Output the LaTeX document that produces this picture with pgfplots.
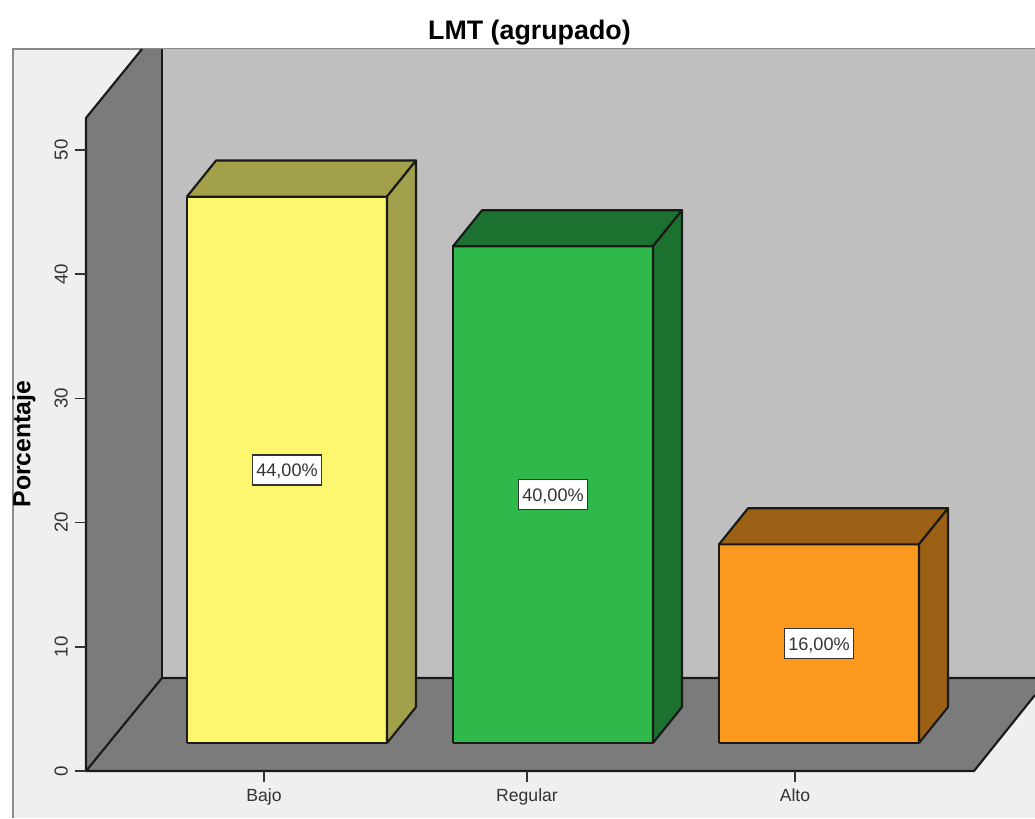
\documentclass[border=0pt]{standalone}
\usepackage{pgfplots}
\pgfplotsset{compat=1.18}
\usepackage{fontspec}
\setmainfont{Liberation Sans}

\definecolor{panelbg}{HTML}{EFEFEF}
\definecolor{panelframe}{HTML}{8A8A8A}
\definecolor{backwall}{HTML}{BFBFBF}
\definecolor{sidewall}{HTML}{7B7B7B}
\definecolor{inkline}{HTML}{1A1A1A}
\definecolor{labeltext}{HTML}{333333}
\definecolor{yellowF}{HTML}{FCF76F}
\definecolor{yellowD}{HTML}{A2A04A}
\definecolor{greenF}{HTML}{2FB94A}
\definecolor{greenD}{HTML}{1C7030}
\definecolor{orangeF}{HTML}{FB991E}
\definecolor{orangeD}{HTML}{9C6114}

\newcommand{\pxfont}[1]{\fontsize{#1}{#1}\selectfont}

% Extruded bar: left edge, value, front / top / side colours, and the value label.
% The bars stand on the floor at 2.25 and recede by 29 units in x and 2.9 in y.
\newcommand{\solidbar}[6]{%
  \pgfmathsetmacro{\xa}{#1}%
  \pgfmathsetmacro{\xb}{#1+200}%
  \pgfmathsetmacro{\xc}{#1+229}%
  \pgfmathsetmacro{\xd}{#1+29}%
  \pgfmathsetmacro{\xm}{#1+100}%
  \pgfmathsetmacro{\ya}{2.25}%
  \pgfmathsetmacro{\yb}{#2+2.25}%
  \pgfmathsetmacro{\yc}{#2+5.15}%
  \pgfmathsetmacro{\yd}{5.15}%
  \pgfmathsetmacro{\ym}{#2/2+2.25}%
  \addplot[draw=inkline, line width=1.6pt, line join=round, fill=#3]
    coordinates {(\xa,\ya) (\xb,\ya) (\xb,\yb) (\xa,\yb) (\xa,\ya)};
  \addplot[draw=inkline, line width=1.6pt, line join=round, fill=#4]
    coordinates {(\xa,\yb) (\xb,\yb) (\xc,\yc) (\xd,\yc) (\xa,\yb)};
  \addplot[draw=inkline, line width=1.6pt, line join=round, fill=#5]
    coordinates {(\xb,\ya) (\xc,\yd) (\xc,\yc) (\xb,\yb) (\xb,\ya)};
  \addplot[draw=none, mark=none, point meta=explicit symbolic, nodes near coords,
    every node near coord/.style={anchor=center, fill=white, draw=labeltext,
      line width=1.2pt, text=labeltext, inner sep=0pt, minimum width=52pt,
      minimum height=22.5pt, text height=9.6pt, text depth=0pt, font=\pxfont{13.6pt}}]
    coordinates {(\xm,\ym) [#6]};
}

\begin{document}
\begin{tikzpicture}
\begin{axis}[
  at={(64.5pt,35.25pt)}, anchor=south west,
  scale only axis, width=711.75pt, height=542.25pt,
  xmin=86, xmax=1035, ymin=0, ymax=58.2126,
  clip=false, axis on top,
  axis line style={draw=none},
  xtick={264,527,795}, xticklabels={Bajo,Regular,Alto},
  ytick={0,10,20,30,40,50},
  /pgf/number format/assume math mode=true,
  tick pos=left, tick align=outside, major tick length=8.5pt,
  tick style={draw=labeltext, line width=1.1pt},
  x tick label style={font=\pxfont{13.2pt}, text=labeltext, anchor=north, inner sep=0pt, yshift=-4.5pt},
  y tick label style={font=\pxfont{14pt}, text=labeltext, rotate=90, anchor=south, inner sep=0pt, yshift=5pt},
  title={\textbf{LMT (agrupado)}},
  title style={at={(axis description cs:0.4673,1.0249)}, anchor=center, font=\pxfont{20.1pt}, inner sep=0pt, yshift=-8.25pt},
  ylabel={\textbf{Porcentaje}},
  every axis y label/.style={at={(axis description cs:-0.0653,0.4523)}, rotate=90, anchor=center, font=\pxfont{18.6pt}, inner sep=0pt},
]
  % Page and panel
  \addplot[draw=none, fill=white] coordinates {(0,-3.78) (1035,-3.78) (1035,62.08) (0,62.08) (0,-3.78)};
  \addplot[draw=none, fill=panelbg] coordinates {(12.5,-3.78) (1035,-3.78) (1035,58.13) (12.5,58.13) (12.5,-3.78)};
  \addplot[draw=panelframe, line width=1.5pt] coordinates {(12.5,-3.78) (12.5,58.13) (1035,58.13)};

  % Back wall
  \addplot[draw=none, fill=backwall] coordinates {(162,7.49) (1035,7.49) (1035,58.13) (162,58.13) (162,7.49)};

  % Left wall
  \addplot[draw=none, fill=sidewall] coordinates {(86,0) (86,52.58) (142,58.13) (162,58.13) (162,7.49) (86,0)};
  \addplot[draw=inkline, line width=1.6pt] coordinates {(86,0) (86,52.58) (142,58.13)};
  \addplot[draw=inkline, line width=1.6pt] coordinates {(162,58.13) (162,7.49)};

  % Floor
  \addplot[draw=none, fill=sidewall] coordinates {(86,0) (974,0) (1035,6.12) (1035,7.49) (162,7.49) (86,0)};
  \addplot[draw=inkline, line width=1.6pt, line join=round] coordinates {(1035,7.49) (162,7.49) (86,0) (974,0) (1035,6.12)};

  % Bars
  \solidbar{187}{44}{yellowF}{yellowD}{yellowD}{44,00\%}
  \solidbar{453}{40}{greenF}{greenD}{greenD}{40,00\%}
  \solidbar{719}{16}{orangeF}{orangeD}{orangeD}{16,00\%}
\end{axis}
\pgfresetboundingbox
\path[use as bounding box] (0,0) rectangle (776.25pt,613.5pt);
\end{tikzpicture}
\end{document}
